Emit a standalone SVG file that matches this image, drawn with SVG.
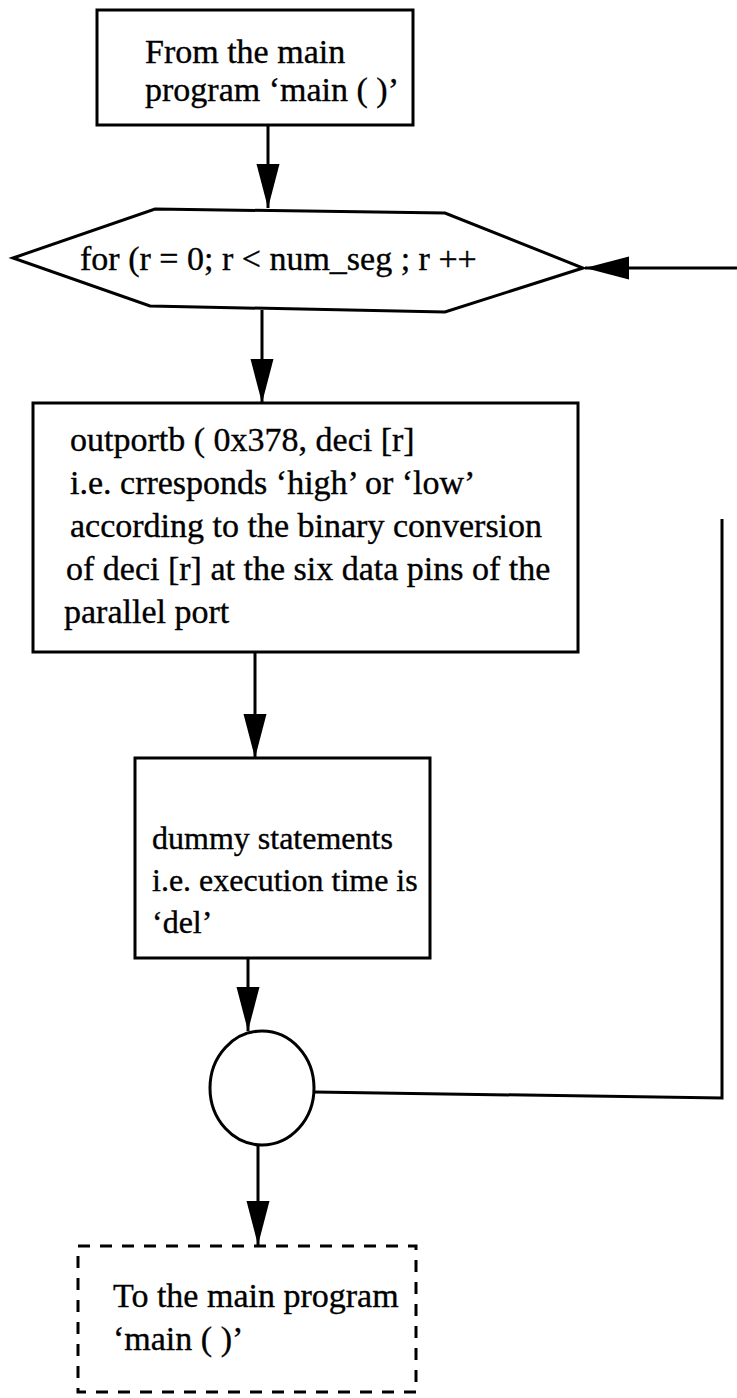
<svg xmlns="http://www.w3.org/2000/svg" width="737" height="1398" viewBox="0 0 737 1398">
  <style>
    .box { fill: #fff; stroke: #000; stroke-width: 3; }
    .dash { fill: none; stroke: #000; stroke-width: 3; stroke-dasharray: 12 10; }
    .edge { fill: none; stroke: #000; stroke-width: 3; }
    .t { font-family: "Liberation Serif", "Times New Roman", serif; font-size: 34px; fill: #000; stroke: #000; stroke-width: 0.35; }
    .sm { font-size: 32px; }
  </style>
  <defs>
    <marker id="arrow" markerUnits="userSpaceOnUse" markerWidth="46" markerHeight="26" refX="44" refY="13" orient="auto" viewBox="0 0 46 26">
      <path d="M0,1.5 L44,13 L0,24.5 Z" fill="#000"/>
    </marker>
  </defs>

  <rect width="737" height="1398" fill="#fff"/>

  <!-- connectors -->
  <g id="connectors">
    <line class="edge" x1="268" y1="125" x2="268" y2="208" marker-end="url(#arrow)"/>
    <line class="edge" x1="262" y1="310" x2="262" y2="403" marker-end="url(#arrow)"/>
    <line class="edge" x1="255" y1="652" x2="255" y2="758" marker-end="url(#arrow)"/>
    <line class="edge" x1="248" y1="958" x2="248" y2="1031" marker-end="url(#arrow)"/>
    <line class="edge" x1="258" y1="1145" x2="258" y2="1245" marker-end="url(#arrow)"/>
    <!-- loop back from the connector circle -->
    <polyline class="edge" points="314,1092 722,1098 722,519"/>
    <line class="edge" x1="737" y1="268" x2="585" y2="268" marker-end="url(#arrow)"/>
  </g>

  <!-- entry -->
  <g id="node-start">
    <rect class="box" x="97" y="10" width="316" height="115"/>
    <text class="t" x="145" y="63">From the main</text>
    <text class="t" x="145" y="101">program ‘main ( )’</text>
  </g>

  <!-- loop header -->
  <g id="node-for">
    <polygon class="box" points="13,258 155,209 445,213 583,268 445,312 150,306"/>
    <text class="t" x="80" y="270">for (r = 0; r &lt; num_seg ; r ++</text>
  </g>

  <!-- port write -->
  <g id="node-outport">
    <rect class="box" x="33" y="403" width="545" height="249"/>
    <text class="t" x="70" y="451">outportb ( 0x378, deci [r]</text>
    <text class="t" x="70" y="494">i.e. crresponds ‘high’ or ‘low’</text>
    <text class="t" x="70" y="537">according to the binary conversion</text>
    <text class="t" x="66" y="580">of deci [r] at the six data pins of the</text>
    <text class="t" x="64" y="623">parallel port</text>
  </g>

  <!-- delay -->
  <g id="node-delay">
    <rect class="box" x="135" y="758" width="295" height="200"/>
    <text class="t sm" x="152" y="849">dummy statements</text>
    <text class="t sm" x="152" y="891">i.e. execution time is</text>
    <text class="t sm" x="152" y="933">‘del’</text>
  </g>

  <!-- connector circle -->
  <g id="node-join">
    <ellipse class="box" cx="262" cy="1088" rx="52" ry="57"/>
  </g>

  <!-- exit -->
  <g id="node-end">
    <rect class="dash" x="78" y="1246" width="338" height="146"/>
    <text class="t" x="113" y="1307">To the main program</text>
    <text class="t" x="113" y="1350">‘main ( )’</text>
  </g>
</svg>
